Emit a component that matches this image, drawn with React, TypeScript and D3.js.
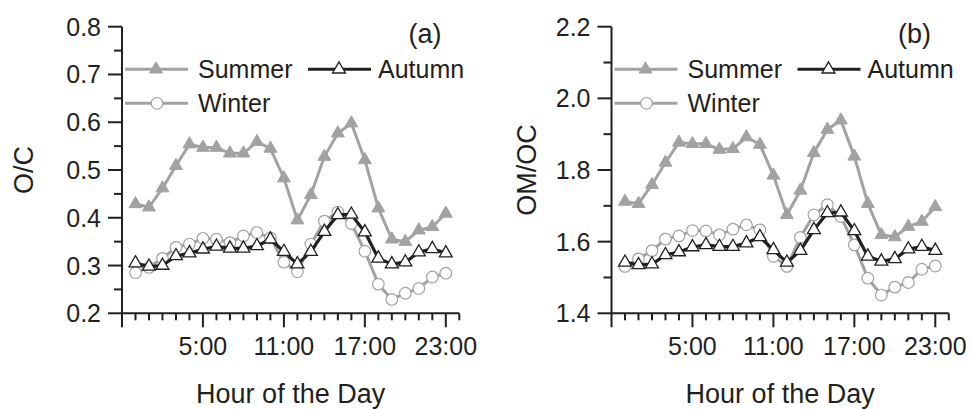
import React from "react";
import * as d3 from "d3";

const hours = [0, 1, 2, 3, 4, 5, 6, 7, 8, 9, 10, 11, 12, 13, 14, 15, 16, 17, 18, 19, 20, 21, 22, 23];
const xTickLabels = ["5:00", "11:00", "17:00", "23:00"];
const xLabelHours = [5, 11, 17, 23];

const ocSummer = [0.429, 0.422, 0.462, 0.509, 0.554, 0.547, 0.547, 0.535, 0.535, 0.559, 0.545, 0.483, 0.395, 0.448, 0.528, 0.577, 0.598, 0.521, 0.42, 0.355, 0.35, 0.374, 0.381, 0.409];
const ocAutumn = [0.305, 0.298, 0.3, 0.32, 0.326, 0.334, 0.34, 0.336, 0.336, 0.341, 0.355, 0.329, 0.303, 0.329, 0.371, 0.406, 0.407, 0.37, 0.315, 0.303, 0.307, 0.328, 0.335, 0.326];
const ocWinter = [0.285, 0.296, 0.315, 0.338, 0.345, 0.357, 0.355, 0.348, 0.362, 0.369, 0.358, 0.307, 0.287, 0.345, 0.393, 0.412, 0.388, 0.33, 0.261, 0.229, 0.242, 0.252, 0.276, 0.284];

const omSummer = [1.712, 1.706, 1.759, 1.821, 1.877, 1.873, 1.873, 1.857, 1.859, 1.892, 1.871, 1.785, 1.675, 1.743, 1.848, 1.913, 1.939, 1.838, 1.706, 1.619, 1.613, 1.642, 1.656, 1.697];
const omAutumn = [1.542, 1.535, 1.537, 1.563, 1.571, 1.585, 1.591, 1.586, 1.586, 1.596, 1.613, 1.577, 1.542, 1.575, 1.633, 1.68, 1.682, 1.63, 1.559, 1.545, 1.552, 1.579, 1.586, 1.575];
const omWinter = [1.531, 1.552, 1.575, 1.607, 1.616, 1.631, 1.63, 1.619, 1.635, 1.647, 1.633, 1.559, 1.531, 1.612, 1.675, 1.703, 1.67, 1.591, 1.498, 1.451, 1.473, 1.486, 1.523, 1.532];

const ocTicks = [0.2, 0.3, 0.4, 0.5, 0.6, 0.7, 0.8];
const ocTickLabels = ["0.2", "0.3", "0.4", "0.5", "0.6", "0.7", "0.8"];
const omTicks = [1.4, 1.6, 1.8, 2.0, 2.2];
const omTickLabels = ["1.4", "1.6", "1.8", "2.0", "2.2"];

const seriesNames = ["Summer", "Autumn", "Winter"];

const GREY = "#a2a2a2";
const BLACK = "#231f20";
const FONT = "'Liberation Sans', Arial, Helvetica, sans-serif";

type PanelProps = {
  left: number;
  yDomain: [number, number];
  ticks: number[];
  tickLabels: string[];
  minorStep: number;
  summer: number[];
  autumn: number[];
  winter: number[];
  yTitle: string;
  yTitleX: number;
  tag: string;
};

function Panel(p: PanelProps) {
  const top = 26.7;
  const bottom = 313.3;
  const width = 337.3;
  const x = d3.scaleLinear().domain([-1, 24]).range([p.left, p.left + width]);
  const y = d3.scaleLinear().domain(p.yDomain).range([bottom, top]);
  const line = d3
    .line<number>()
    .x((_, i) => x(hours[i]))
    .y((d) => y(d));
  const tri = d3.symbol().type(d3.symbolTriangle).size(72)();
  const minorY = d3.range(p.yDomain[0], p.yDomain[1] + 1e-9, p.minorStep);
  const xTickVals = d3.range(0, 25);
  const legX = p.left + 3;
  const leg1Y = top + 42.6;
  const leg2Y = top + 76.6;
  return (
    <g>
      <line x1={x(-1)} x2={x(-1)} y1={top} y2={bottom + 14} stroke={BLACK} strokeWidth={2} />
      <line x1={x(-1)} x2={x(24)} y1={bottom} y2={bottom} stroke={BLACK} strokeWidth={2} />
      {minorY.map((v, i) => {
        const major = p.ticks.some((t) => Math.abs(t - v) < 1e-6);
        return (
          <line key={"ym" + i} x1={x(-1) - (major ? 14 : 8)} x2={x(-1)} y1={y(v)} y2={y(v)} stroke={BLACK} strokeWidth={2} />
        );
      })}
      {p.ticks.map((t, i) => (
        <text key={"yl" + i} x={x(-1) - 21} y={y(t) + 9} textAnchor="end" fontSize={25} fontFamily={FONT} fill={BLACK}>
          {p.tickLabels[i]}
        </text>
      ))}
      {xTickVals.map((h) => {
        const major = xLabelHours.includes(h);
        return (
          <line key={"xt" + h} x1={x(h)} x2={x(h)} y1={bottom} y2={bottom + (major ? 14 : 7)} stroke={BLACK} strokeWidth={2} />
        );
      })}
      {xLabelHours.map((h, i) => (
        <text key={"xl" + h} x={x(h)} y={355} textAnchor="middle" fontSize={25} fontFamily={FONT} fill={BLACK}>
          {xTickLabels[i]}
        </text>
      ))}
      <text x={x(11.5)} y={403} textAnchor="middle" fontSize={27} fontFamily={FONT} fill={BLACK}>
        Hour of the Day
      </text>
      <text
        transform={`translate(${p.yTitleX},${(top + bottom) / 2}) rotate(-90)`}
        textAnchor="middle"
        fontSize={27}
        fontFamily={FONT}
        fill={BLACK}
      >
        {p.yTitle}
      </text>
      <text x={p.left + 303} y={43} textAnchor="middle" fontSize={27} fontFamily={FONT} fill={BLACK}>
        {p.tag}
      </text>

      <path d={line(p.summer) || ""} fill="none" stroke={GREY} strokeWidth={3} strokeLinejoin="round" />
      {p.summer.map((v, i) => (
        <path key={"s" + i} d={tri || ""} transform={`translate(${x(hours[i])},${y(v)})`} fill={GREY} stroke={GREY} strokeWidth={1} />
      ))}
      <path d={line(p.winter) || ""} fill="none" stroke={GREY} strokeWidth={3} strokeLinejoin="round" />
      {p.winter.map((v, i) => (
        <circle key={"w" + i} cx={x(hours[i])} cy={y(v)} r={5.8} fill="#fff" stroke={GREY} strokeWidth={1.2} />
      ))}
      <path d={line(p.autumn) || ""} fill="none" stroke={BLACK} strokeWidth={3.2} strokeLinejoin="round" />
      {p.autumn.map((v, i) => (
        <path key={"a" + i} d={tri || ""} transform={`translate(${x(hours[i])},${y(v)})`} fill="#fff" stroke={BLACK} strokeWidth={1.3} />
      ))}

      <line x1={legX} x2={legX + 63} y1={leg1Y} y2={leg1Y} stroke={GREY} strokeWidth={3} />
      <path d={tri || ""} transform={`translate(${legX + 31},${leg1Y})`} fill={GREY} stroke={GREY} />
      <text x={legX + 73} y={leg1Y + 9} fontSize={25} fontFamily={FONT} fill={BLACK}>
        {seriesNames[0]}
      </text>
      <line x1={legX + 183} x2={legX + 246} y1={leg1Y} y2={leg1Y} stroke={BLACK} strokeWidth={3} />
      <path d={tri || ""} transform={`translate(${legX + 214},${leg1Y})`} fill="#fff" stroke={BLACK} strokeWidth={1.3} />
      <text x={legX + 253} y={leg1Y + 9} fontSize={25} fontFamily={FONT} fill={BLACK}>
        {seriesNames[1]}
      </text>
      <line x1={legX} x2={legX + 63} y1={leg2Y} y2={leg2Y} stroke={GREY} strokeWidth={3} />
      <circle cx={legX + 32} cy={leg2Y} r={5.8} fill="#fff" stroke={GREY} strokeWidth={1.2} />
      <text x={legX + 73} y={leg2Y + 9} fontSize={25} fontFamily={FONT} fill={BLACK}>
        {seriesNames[2]}
      </text>
    </g>
  );
}

export default function App() {
  return (
    <svg
      width={971}
      height={409}
      viewBox="0 0 971 409"
      style={{ position: "fixed", left: 0, top: 0, display: "block", background: "#fff" }}
    >
      <rect width={971} height={409} fill="#fff" />
      <Panel
        left={122}
        yDomain={[0.2, 0.8]}
        ticks={ocTicks}
        tickLabels={ocTickLabels}
        minorStep={0.05}
        summer={ocSummer}
        autumn={ocAutumn}
        winter={ocWinter}
        yTitle="O/C"
        yTitleX={33}
        tag="(a)"
      />
      <Panel
        left={611.5}
        yDomain={[1.4, 2.2]}
        ticks={omTicks}
        tickLabels={omTickLabels}
        minorStep={0.1}
        summer={omSummer}
        autumn={omAutumn}
        winter={omWinter}
        yTitle="OM/OC"
        yTitleX={536}
        tag="(b)"
      />
    </svg>
  );
}
